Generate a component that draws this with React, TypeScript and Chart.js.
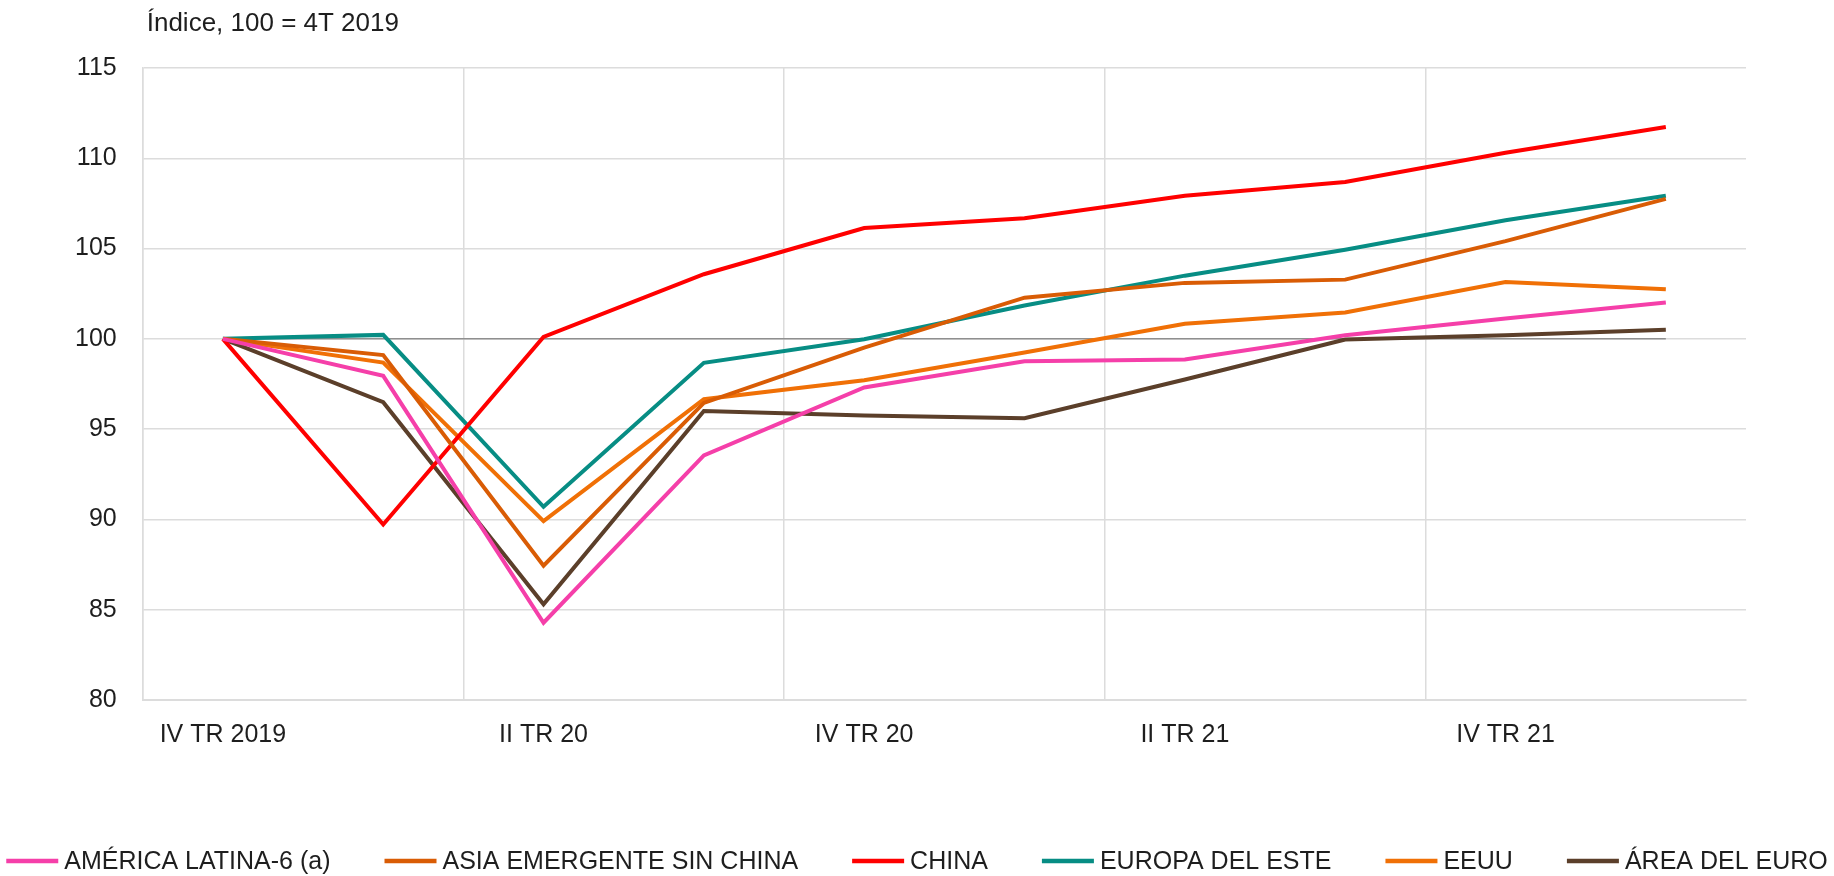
import React, { useEffect, useRef } from "react";
import { Chart, registerables } from "chart.js";

Chart.register(...registerables);

const FONT = "'Liberation Sans', Arial, sans-serif";
const TEXT_COLOR = "#1e1e1e";
const GRID_COLOR = "#dcdcdc";

const quarters = [
  "IV TR 2019", "I TR 20", "II TR 20", "III TR 20", "IV TR 20",
  "I TR 21", "II TR 21", "III TR 21", "IV TR 21", "I TR 22",
];

const americaLatina = [100, 97.95, 84.28, 93.55, 97.31, 98.76, 98.86, 100.2, 101.13, 102.01];
const asiaEmergente = [100, 99.1, 87.44, 96.45, 99.51, 102.28, 103.1, 103.28, 105.41, 107.75];
const china = [100, 89.72, 100.11, 103.58, 106.14, 106.68, 107.92, 108.69, 110.31, 111.73];
const europaEste = [100, 100.22, 90.7, 98.67, 99.98, 101.85, 103.5, 104.94, 106.57, 107.92];
const eeuu = [100, 98.69, 89.91, 96.66, 97.71, 99.24, 100.84, 101.46, 103.15, 102.75];
const areaEuro = [100, 96.49, 85.3, 96.0, 95.75, 95.6, 97.75, 99.96, 100.2, 100.5];
const baseline = [100, 100, 100, 100, 100, 100, 100, 100, 100, 100];

const seriesLabels = [
  "AMÉRICA LATINA-6 (a)",
  "ASIA EMERGENTE SIN CHINA",
  "CHINA",
  "EUROPA DEL ESTE",
  "EEUU",
  "ÁREA DEL EURO",
];
const seriesColors = ["#f53fa9", "#d95c05", "#ff0000", "#078d84", "#f07006", "#5b3f2a"];
const seriesValues = [americaLatina, asiaEmergente, china, europaEste, eeuu, areaEuro];

const yTicks = { min: 80, max: 115, step: 5 };
const titleText = "Índice, 100 = 4T 2019";

const titlePlugin = {
  id: "topTitle",
  afterDraw(chart: any) {
    const ctx = chart.ctx;
    ctx.save();
    ctx.font = `26px ${FONT}`;
    ctx.fillStyle = TEXT_COLOR;
    ctx.textAlign = "left";
    ctx.textBaseline = "alphabetic";
    ctx.fillText(titleText, chart.chartArea.left + 4, 31);
    ctx.restore();
  },
};

const legendPlugin = {
  id: "bottomLegend",
  afterDraw(chart: any) {
    const ctx = chart.ctx;
    ctx.save();
    ctx.font = `25px ${FONT}`;
    const items = chart.data.datasets.filter((d: any) => !d.isBaseline);
    const boxW = 52;
    const gap = 6;
    const spacing = 54;
    const widths = items.map((d: any) => ctx.measureText(d.label).width);
    let total = 0;
    widths.forEach((w: number) => (total += boxW + gap + w));
    total += spacing * (items.length - 1);
    let x = (chart.width - total) / 2;
    const y = 861;
    items.forEach((d: any, i: number) => {
      ctx.strokeStyle = d.borderColor;
      ctx.lineWidth = 4.5;
      ctx.lineCap = "butt";
      ctx.beginPath();
      ctx.moveTo(x, y);
      ctx.lineTo(x + boxW, y);
      ctx.stroke();
      x += boxW + gap;
      ctx.fillStyle = TEXT_COLOR;
      ctx.textAlign = "left";
      ctx.textBaseline = "middle";
      ctx.fillText(d.label, x, y + 1);
      x += widths[i] + spacing;
    });
    ctx.restore();
  },
};

export default function App() {
  const canvasRef = useRef<HTMLCanvasElement | null>(null);

  useEffect(() => {
    document.body.style.margin = "0";
    const canvas = canvasRef.current;
    if (!canvas) return;

    const datasets: any[] = seriesLabels.map((label, i) => ({
      label,
      data: seriesValues[i],
      borderColor: seriesColors[i],
      backgroundColor: seriesColors[i],
      borderWidth: 4,
      pointRadius: 0,
      pointHoverRadius: 0,
      tension: 0,
      fill: false,
      order: 1,
    }));
    datasets.push({
      label: "100",
      data: baseline,
      isBaseline: true,
      borderColor: "#8f8f8f",
      backgroundColor: "#8f8f8f",
      borderWidth: 1.5,
      pointRadius: 0,
      tension: 0,
      fill: false,
      order: 10,
    });

    const chart = new Chart(canvas, {
      type: "line",
      data: { labels: quarters, datasets },
      options: {
        responsive: false,
        animation: false,
        devicePixelRatio: 1,
        layout: { padding: { left: 49, right: 88, top: 68, bottom: 106 } },
        plugins: {
          legend: { display: false },
          tooltip: { enabled: false },
          title: { display: false },
        },
        scales: {
          x: {
            offset: true,
            grid: {
              offset: true,
              drawTicks: false,
              lineWidth: 1.5,
              color: (ctx: any) => (ctx.index % 2 === 0 ? GRID_COLOR : "rgba(0,0,0,0)"),
            },
            border: { display: true, color: GRID_COLOR, width: 2 },
            ticks: {
              autoSkip: false,
              maxRotation: 0,
              padding: 20,
              color: TEXT_COLOR,
              font: { family: FONT, size: 25 },
              callback: (_v: any, i: number) => (i % 2 === 0 ? quarters[i] : ""),
            },
          },
          y: {
            min: yTicks.min,
            max: yTicks.max,
            grid: { color: GRID_COLOR, lineWidth: 1.5, drawTicks: false },
            border: { display: true, color: GRID_COLOR, width: 1.5 },
            ticks: {
              stepSize: yTicks.step,
              padding: 26,
              color: TEXT_COLOR,
              font: { family: FONT, size: 25 },
            },
          },
        },
      },
      plugins: [titlePlugin, legendPlugin],
    });

    return () => chart.destroy();
  }, []);

  return (
    <div style={{ width: 1834, height: 876 }}>
      <canvas ref={canvasRef} width={1834} height={876} style={{ display: "block" }} />
    </div>
  );
}
